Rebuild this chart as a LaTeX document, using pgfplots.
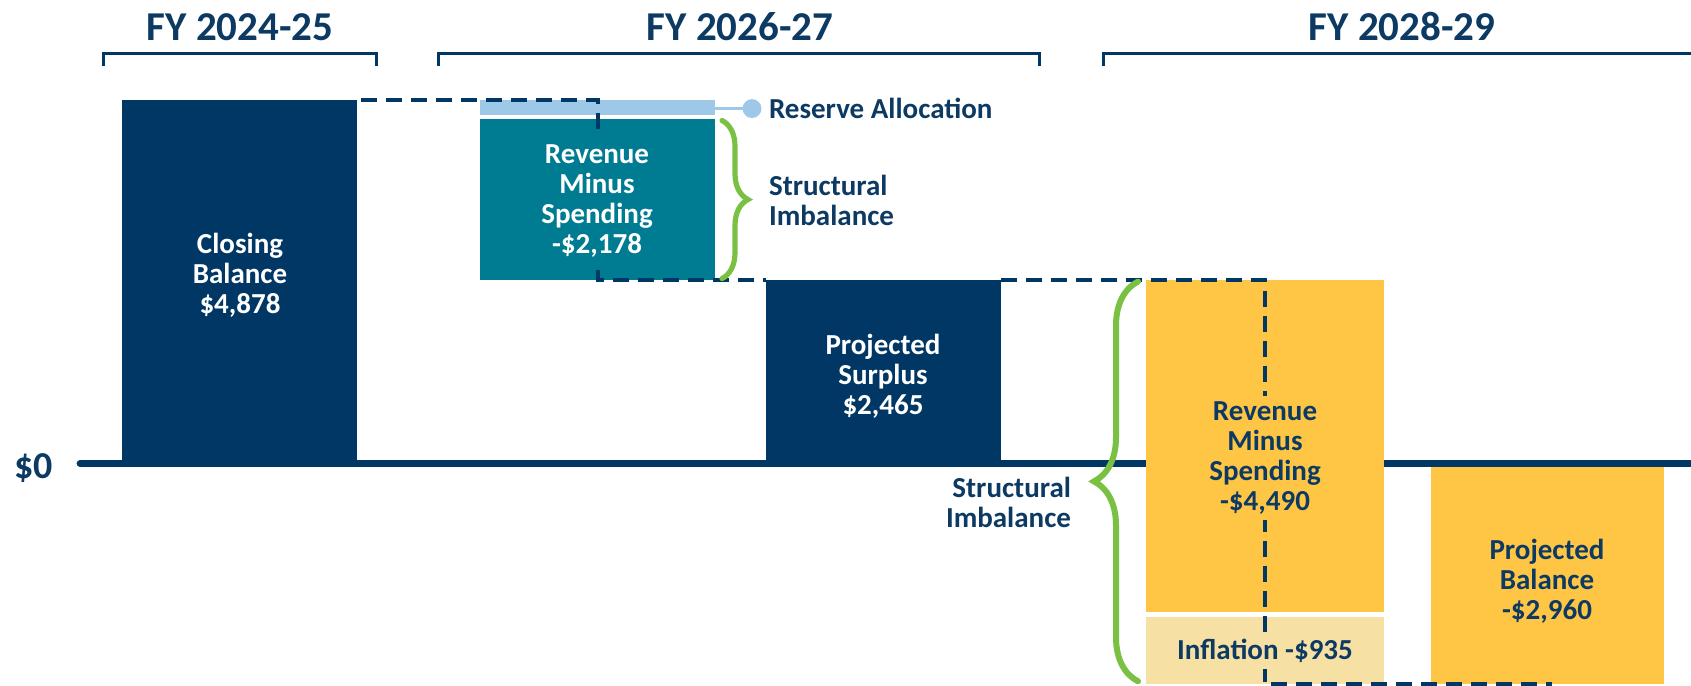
\documentclass[border=0pt]{standalone}
\usepackage{fontspec}
\setmainfont{Carlito}
\usepackage{pgfplots}
\pgfplotsset{compat=1.18}
\usetikzlibrary{decorations.pathreplacing}

\definecolor{navy}{HTML}{003764}
\definecolor{tealbar}{HTML}{007C92}
\definecolor{reserve}{HTML}{9DC8E8}
\definecolor{gold}{HTML}{FFC646}
\definecolor{paleGold}{HTML}{F7E0A3}
\definecolor{brace}{HTML}{7AC143}
\definecolor{ink}{HTML}{0C3A63}

\newcommand{\lbl}{\fontsize{14.5}{15}\selectfont\bfseries}
\newcommand{\ttl}{\fontsize{20.5}{22}\selectfont\bfseries}

\begin{document}
\begin{tikzpicture}
\begin{axis}[scale only axis, width=845.5pt, height=342.5pt,
  xmin=0, xmax=1691, ymin=-2970, ymax=6216, hide axis, clip=false]

% zero line
\addplot[navy, line width=3.4pt, line cap=round] coordinates {(80,0) (1691,0)};

% bars (x in px positions, y in $ millions)
\addplot[fill=navy, draw=none] coordinates {(122,0) (357,0) (357,4878) (122,4878)} -- cycle;
\addplot[fill=reserve, draw=none] coordinates {(480,4643) (715,4643) (715,4878) (480,4878)} -- cycle;
\addplot[fill=tealbar, draw=none] coordinates {(480,2465) (715,2465) (715,4643) (480,4643)} -- cycle;
\addplot[fill=navy, draw=none] coordinates {(766,0) (1001,0) (1001,2465) (766,2465)} -- cycle;
\addplot[fill=gold, draw=none] coordinates {(1146,2465) (1384,2465) (1384,-2025) (1146,-2025)} -- cycle;
\addplot[fill=paleGold, draw=none] coordinates {(1146,-2025) (1384,-2025) (1384,-2960) (1146,-2960)} -- cycle;
\addplot[fill=gold, draw=none] coordinates {(1431,-40) (1664,-40) (1664,-2960) (1431,-2960)} -- cycle;

% white gaps in stacked bars
\addplot[white, line width=2.2pt] coordinates {(480,4643) (715,4643)};
\addplot[white, line width=2.8pt] coordinates {(1146,-2025) (1384,-2025)};

% connectors
\addplot[navy, line width=1.8pt, dash pattern=on 8pt off 4.5pt] coordinates {(361,4878) (598,4878) (598,4420)};
\addplot[navy, line width=1.8pt, dash pattern=on 8pt off 4.5pt] coordinates {(598,2600) (598,2465) (766,2465)};
\addplot[navy, line width=1.8pt, dash pattern=on 8pt off 4.5pt] coordinates {(1001,2465) (1265,2465) (1265,-2960) (1552,-2960)};

% reserve allocation callout
\addplot[reserve, line width=1.8pt, mark=*, mark size=3.8pt, mark indices={2}] coordinates {(715,4760) (752,4760)};
\node[anchor=west, text=ink, font=\lbl] at (axis cs:762,4760) {Reserve Allocation};

% braces
\draw[brace, line width=2.6pt, line cap=round, decorate, decoration={brace, amplitude=13pt}]
  (axis cs:722,4600) -- (axis cs:722,2480);
\node[anchor=west, align=left, text=ink, font=\lbl] at (axis cs:762,3526) {Structural\\Imbalance};
\draw[brace, line width=3pt, line cap=round, decorate, decoration={brace, amplitude=22pt}]
  (axis cs:1138,-2920) -- (axis cs:1138,2440);
\node[anchor=east, align=right, text=ink, font=\lbl] at (axis cs:1078,-516) {Structural\\Imbalance};

% bar labels
\node[text=white, align=center, font=\lbl] at (axis cs:240,2528) {Closing\\Balance\\\$4,878};
\node[text=white, align=center, font=\lbl] at (axis cs:597,3526) {Revenue\\Minus\\Spending\\-\$2,178};
\node[text=white, align=center, font=\lbl] at (axis cs:883,1174) {Projected\\Surplus\\\$2,465};
\node[fill=gold, inner sep=3pt, text=ink, align=center, font=\lbl] at (axis cs:1265,74) {Revenue\\Minus\\Spending\\-\$4,490};
\node[fill=paleGold, inner sep=3pt, text=ink, font=\lbl] at (axis cs:1265,-2514) {Inflation -\$935};
\node[text=ink, align=center, font=\lbl] at (axis cs:1547,-1575) {Projected\\Balance\\-\$2,960};

% zero label
\node[anchor=east, text=ink, font=\fontsize{19}{20}\selectfont\bfseries] at (axis cs:60,-60) {\$0};

% fiscal year brackets
\draw[navy, line width=1.5pt] (axis cs:103,5331) -- (axis cs:103,5492) -- (axis cs:376,5492) -- (axis cs:376,5331);
\draw[navy, line width=1.5pt] (axis cs:438,5331) -- (axis cs:438,5492) -- (axis cs:1039,5492) -- (axis cs:1039,5331);
\draw[navy, line width=1.5pt] (axis cs:1103,5331) -- (axis cs:1103,5492) -- (axis cs:1691,5492);
\node[text=ink, font=\ttl] at (axis cs:240,5854) {FY 2024-25};
\node[text=ink, font=\ttl] at (axis cs:740,5854) {FY 2026-27};
\node[text=ink, font=\ttl] at (axis cs:1402,5854) {FY 2028-29};

\end{axis}
\pgfresetboundingbox
\path[use as bounding box] (current axis.south west) rectangle (current axis.north east);
\end{tikzpicture}
\end{document}
